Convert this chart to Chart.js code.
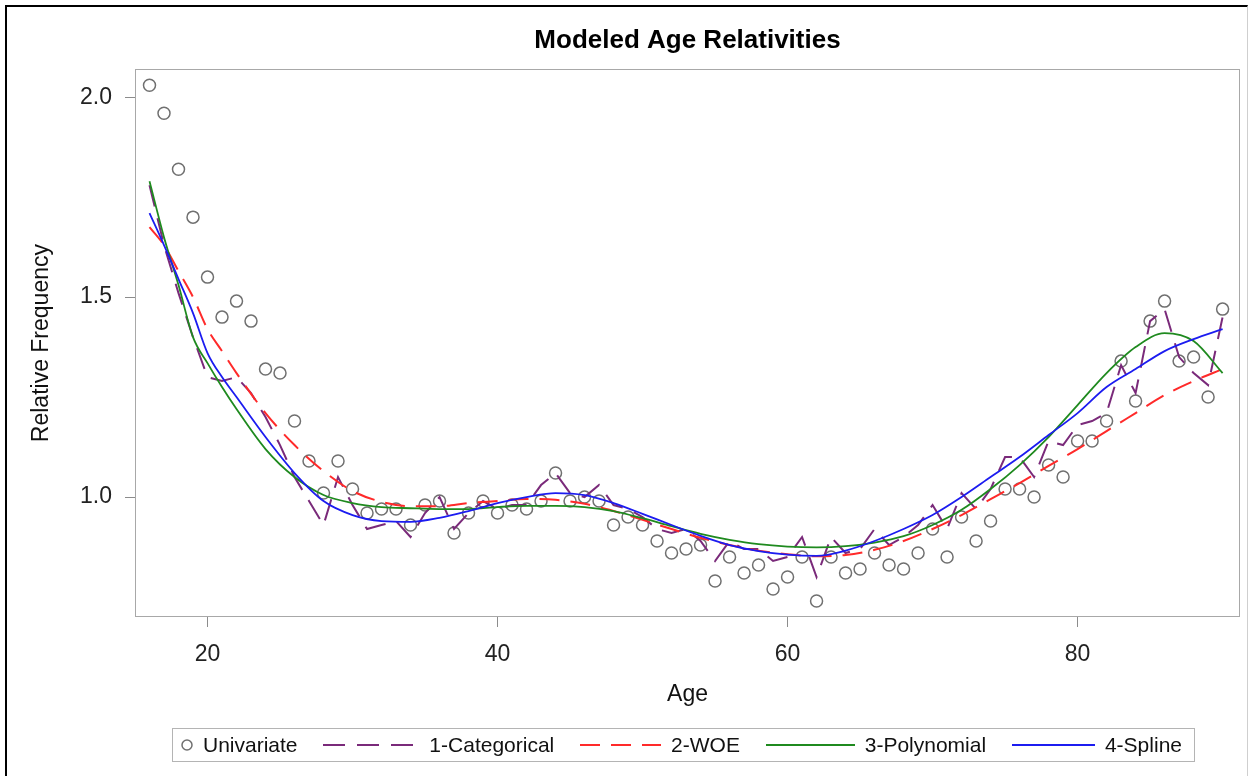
<!DOCTYPE html>
<html>
<head>
<meta charset="utf-8">
<script src="https://cdn.jsdelivr.net/npm/chart.js@4"></script>
<style>
  html, body { margin: 0; padding: 0; background: #fff; overflow: hidden; }
  #wrap { position: relative; width: 1255px; height: 776px; }
  #frame { position: absolute; left: 5px; top: 5px; width: 1240px; height: 800px;
           border-left: 2px solid #000; border-top: 2px solid #000; border-right: 1px solid #cfcfcf;
           pointer-events: none; }
  #legend { position: absolute; left: 172px; top: 728px; width: 1001px; height: 32px;
            padding: 0 12px 0 8px; border: 1px solid #b4b4b4; display: flex;
            align-items: center; justify-content: space-between;
            font: 21px "Liberation Sans", Arial, sans-serif; color: #111; }
  #legend .item { display: flex; align-items: center; }
  #legend svg { margin-right: 10px; }
</style>
</head>
<body>
<div id="wrap">
  <canvas id="ageChart"></canvas>
  <div id="legend"></div>
  <div id="frame"></div>
</div>
<script>
// ages 16..90, one observed relativity per age
var ages = [16,17,18,19,20,21,22,23,24,25,26,27,28,29,30,31,32,33,34,35,36,37,38,39,40,
            41,42,43,44,45,46,47,48,49,50,51,52,53,54,55,56,57,58,59,60,61,62,63,64,65,
            66,67,68,69,70,71,72,73,74,75,76,77,78,79,80,81,82,83,84,85,86,87,88,89,90];
var univariate = [2.03,1.96,1.82,1.70,1.55,1.45,1.49,1.44,1.32,1.31,1.19,1.09,1.01,1.09,1.02,
                  0.96,0.97,0.97,0.93,0.98,0.99,0.91,0.96,0.99,0.96,0.98,0.97,0.99,1.06,0.99,
                  1.00,0.99,0.93,0.95,0.93,0.89,0.86,0.87,0.88,0.79,0.85,0.81,0.83,0.77,0.80,
                  0.85,0.74,0.85,0.81,0.82,0.86,0.83,0.82,0.86,0.92,0.85,0.95,0.89,0.94,1.02,
                  1.02,1.00,1.08,1.05,1.14,1.14,1.19,1.34,1.24,1.44,1.49,1.34,1.35,1.25,1.47];
var categorical = [1.78,1.63,1.51,1.40,1.30,1.29,1.30,1.26,1.20,1.13,1.05,0.99,0.93,1.05,0.98,
                   0.92,0.93,0.94,0.90,0.96,1.00,0.92,0.96,0.99,0.97,0.98,0.98,1.03,1.06,1.01,
                   1.00,1.03,0.98,0.97,0.95,0.92,0.91,0.92,0.89,0.84,0.89,0.87,0.87,0.84,0.85,
                   0.90,0.80,0.90,0.86,0.87,0.92,0.88,0.90,0.93,0.98,0.92,1.01,0.97,1.02,1.10,
                   1.10,1.05,1.14,1.13,1.18,1.19,1.21,1.33,1.26,1.44,1.47,1.35,1.31,1.28,1.45];

// smooth fitted curves, read at these ages
var smoothAges = [16,17,18,19,20,21,22,24,26,28,30,32,34,36,38,40,42,44,46,48,50,52,54,
                  56,58,60,62,64,66,68,70,72,74,76,78,80,82,84,86,88,90];
var woe = [1.675,1.63,1.565,1.50,1.42,1.365,1.31,1.21,1.13,1.065,1.015,0.988,0.977,0.977,0.985,
           0.99,0.995,0.993,0.983,0.965,0.943,0.92,0.898,0.88,0.866,0.857,0.852,0.855,0.868,
           0.89,0.92,0.955,0.995,1.035,1.078,1.12,1.165,1.21,1.255,1.29,1.32];
var polynomial = [1.79,1.65,1.53,1.40,1.335,1.275,1.22,1.12,1.05,1.005,0.985,0.975,0.972,0.97,0.97,
                  0.975,0.978,0.978,0.975,0.965,0.947,0.927,0.908,0.893,0.882,0.876,0.874,0.877,
                  0.886,0.902,0.93,0.968,1.02,1.08,1.15,1.23,1.31,1.375,1.41,1.39,1.31];
var spline = [1.71,1.63,1.545,1.46,1.36,1.30,1.25,1.15,1.06,0.99,0.955,0.94,0.938,0.948,0.965,
              0.985,1.0,1.01,1.005,0.985,0.958,0.93,0.903,0.88,0.865,0.856,0.853,0.866,0.89,
              0.92,0.955,1.0,1.05,1.10,1.155,1.21,1.275,1.32,1.365,1.395,1.42];

var FONT = '"Liberation Sans", Arial, sans-serif';

function pts(xs, ys) {
  return xs.map(function(x, i) { return { x: x, y: ys[i] }; });
}

var series = [
  { label: "Univariate", kind: "marker", data: pts(ages, univariate), color: "#707070", order: 4 },
  { label: "1-Categorical", kind: "line", data: pts(ages, categorical), color: "#7a2a7a", dash: [22, 12], width: 2, smooth: false, order: 3 },
  { label: "2-WOE", kind: "line", data: pts(smoothAges, woe), color: "#ff2a2a", dash: [20, 11], width: 2, smooth: true, order: 2 },
  { label: "3-Polynomial", kind: "line", data: pts(smoothAges, polynomial), color: "#1f8a1f", dash: [], width: 1.8, smooth: true, order: 1 },
  { label: "4-Spline", kind: "line", data: pts(smoothAges, spline), color: "#1c1cf0", dash: [], width: 1.8, smooth: true, order: 0 }
];

var datasets = series.map(function(s) {
  if (s.kind === "marker") {
    return {
      label: s.label, data: s.data, order: s.order, showLine: false,
      pointRadius: 6, pointBorderWidth: 1.5, pointBorderColor: s.color,
      pointBackgroundColor: "rgba(0,0,0,0)", pointStyle: "circle"
    };
  }
  return {
    label: s.label, data: s.data, order: s.order, showLine: true,
    borderColor: s.color, borderWidth: s.width, borderDash: s.dash,
    pointRadius: 0, fill: false,
    tension: s.smooth ? 0.4 : 0,
    cubicInterpolationMode: s.smooth ? "monotone" : "default"
  };
});

// gray box round the plot area
var plotFrame = {
  id: "plotFrame",
  afterDatasetsDraw: function(chart) {
    var a = chart.chartArea, c = chart.ctx;
    c.save();
    c.strokeStyle = "#a8a8a8";
    c.lineWidth = 1;
    c.strokeRect(Math.round(a.left) + 0.5, Math.round(a.top) + 0.5,
                 Math.round(a.right - a.left) - 1, Math.round(a.bottom - a.top) - 1);
    c.restore();
  }
};

var tickFont = { family: FONT, size: 23 };
var titleFont = { family: FONT, size: 23 };

new Chart(document.getElementById("ageChart"), {
  type: "scatter",
  data: { datasets: datasets },
  options: {
    responsive: true,
    maintainAspectRatio: false,
    animation: false,
    layout: { padding: { left: 0, right: 15, top: 0, bottom: 48 } },
    plugins: {
      legend: { display: false },
      tooltip: { enabled: false },
      title: {
        display: true, text: "Modeled Age Relativities", fullSize: false, color: "#000",
        font: { family: FONT, size: 26, weight: "bold" },
        padding: { top: 25, bottom: 13 }
      }
    },
    scales: {
      x: {
        type: "linear", min: 15, max: 91.2,
        afterFit: function(s) { s.height = 111; },
        ticks: { stepSize: 20, includeBounds: false, padding: 14, color: "#222", font: tickFont },
        grid: { drawOnChartArea: false, drawTicks: true, tickLength: 10, color: "#8c8c8c" },
        border: { display: false },
        title: { display: true, text: "Age", color: "#111", font: titleFont, padding: { top: 0, bottom: 20 } }
      },
      y: {
        type: "linear", min: 0.70, max: 2.07,
        afterFit: function(s) { s.width = 135; },
        ticks: {
          stepSize: 0.5, includeBounds: false, padding: 13, color: "#222", font: tickFont,
          callback: function(v) { return Number(v).toFixed(1); }
        },
        grid: { drawOnChartArea: false, drawTicks: true, tickLength: 10, color: "#8c8c8c" },
        border: { display: false },
        title: { display: true, text: "Relative Frequency", color: "#111", font: titleFont, padding: { top: 28, bottom: 0 } }
      }
    }
  },
  plugins: [plotFrame]
});

// legend box under the plot, built from the same series list
var swatchWidths = { "1-Categorical": 96, "2-WOE": 81, "3-Polynomial": 89, "4-Spline": 83 };
var legend = document.getElementById("legend");
series.forEach(function(s) {
  var item = document.createElement("div");
  item.className = "item";
  var svg;
  if (s.kind === "marker") {
    svg = '<svg width="12" height="14"><circle cx="6" cy="7" r="5" fill="none" stroke="' + s.color + '" stroke-width="1.5"/></svg>';
  } else {
    var w = swatchWidths[s.label];
    svg = '<svg width="' + w + '" height="14"><line x1="0" y1="7" x2="' + w + '" y2="7" stroke="' + s.color +
          '" stroke-width="' + s.width + '"' + (s.dash.length ? ' stroke-dasharray="' + s.dash.join(",") + '"' : '') + '/></svg>';
  }
  item.innerHTML = svg + '<span>' + s.label + '</span>';
  legend.appendChild(item);
});
</script>
</body>
</html>
